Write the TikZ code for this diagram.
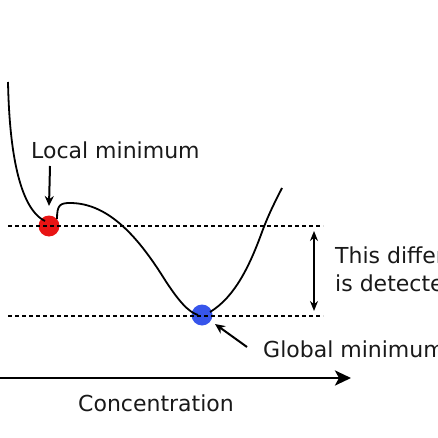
\documentclass[tikz,border=0pt]{standalone}
\usepackage{fontspec}
\setmainfont{DejaVu Sans}
\usetikzlibrary{arrows.meta}
\begin{document}
\begin{tikzpicture}[x=1pt,y=-1pt,
  curve/.style={line width=1.8pt,black},
  guide/.style={line width=1.6pt,black,dash pattern=on 4pt off 3pt},
  pointer/.style={line width=2pt,-{Stealth[length=10pt,width=9pt]}},
  dot/.style={circle,inner sep=0pt,minimum size=21pt},
  label/.style={font=\fontsize{22}{26}\selectfont,inner sep=0pt,text=black!90}]
\useasboundingbox (0,0) rectangle (438,438);
\clip (0,0) rectangle (438,438);
% dots
\node[dot,fill={rgb,255:red,232;green,20;blue,20}] (red) at (49,226) {};
\node[dot,fill={rgb,255:red,55;green,85;blue,235}] (blue) at (202,315) {};
% energy curve
\draw[curve] (8,82) .. controls (10,180) and (28,213) .. (45,221);
\draw[curve] (57,219) .. controls (57,205) and (60,203) .. (70,203)
  .. controls (110,203) and (140,240) .. (165,280)
  .. controls (178,300) and (188,312) .. (198,315);
\draw[curve] (210,312) .. controls (235,297) and (250,265) .. (262,232)
  .. controls (269,213) and (276,200) .. (282,188);
% dashed levels
\coordinate (u0) at (8,226); \coordinate (u1) at (323,226);
\coordinate (l0) at (8,316); \coordinate (l1) at (323,316);
\draw[guide] (u0) -- (u1);
\draw[guide] (l0) -- (l1);
% labels
\node[label,anchor=base west] (local) at (31,159) {Local minimum};
\node[label,anchor=base west] (diff1) at (335,263) {This difference};
\node[label,anchor=base west] (diff2) at (335,291) {is detected};
\node[label,anchor=base west] (glob) at (263,357) {Global minimum};
\node[label,anchor=base west] (conc) at (78,411) {Concentration};
% arrows
\coordinate (la) at (50,166);
\draw[pointer] (la) -- (red.north |- 0,206);
\coordinate (d0) at (314,231); \coordinate (d1) at (314,311);
\draw[line width=1.6pt,{Stealth[length=10pt,width=8pt]}-{Stealth[length=10pt,width=8pt]}] (d0) -- (d1);
\coordinate (ga) at (247,347);
\draw[pointer] (ga) -- (215,324);
\coordinate (ax0) at (0,378); \coordinate (ax1) at (351,378);
\draw[line width=2.8pt,-{Stealth[length=16pt,width=15pt,inset=4pt]}] (ax0) -- (ax1);
\end{tikzpicture}
\end{document}
